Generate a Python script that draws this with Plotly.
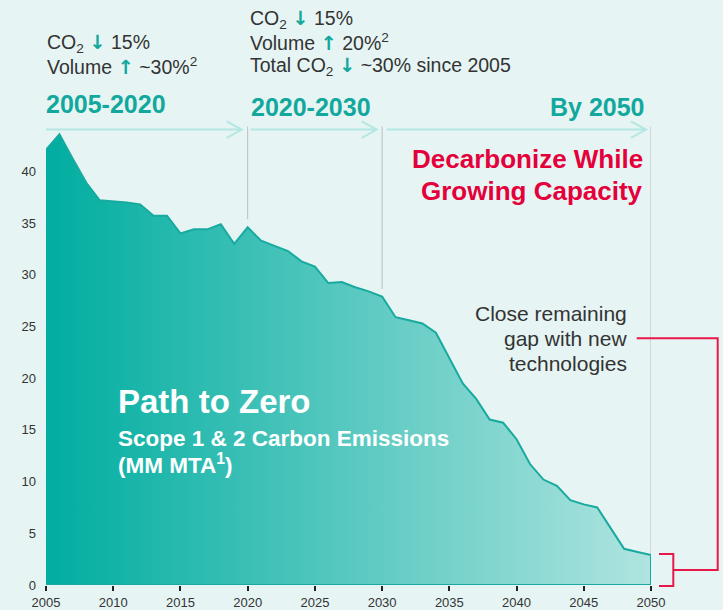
import plotly.graph_objects as go

years = list(range(2005, 2051))
emissions = [42.1, 43.6, 41.2, 38.9, 37.2, 37.1, 37.0, 36.8, 35.7, 35.7,
             34.0, 34.4, 34.4, 34.9, 33.0, 34.6, 33.3, 32.8, 32.3, 31.3,
             30.8, 29.2, 29.3, 28.8, 28.4, 27.9, 25.9, 25.6, 25.3, 24.4,
             22.0, 19.5, 18.0, 16.0, 15.7, 14.1, 11.7, 10.2, 9.6, 8.2,
             7.8, 7.5, 5.5, 3.5, 3.2, 2.9]
x_ticks = [2005, 2010, 2015, 2020, 2025, 2030, 2035, 2040, 2045, 2050]
y_ticks = [0, 5, 10, 15, 20, 25, 30, 35, 40]
phase_marks = [2020, 2030, 2050]

TEAL = "#12a89d"
RED = "#e4003b"
DARK = "#333333"
BG = "#e6f5f4"
FONT = "Liberation Sans, Arial, sans-serif"

# plot area in pixels: x 46..651, y 0..587
L, R, H = 46, 651, 587


def px(x):
    return (x - L) / (R - L)


def py(y):
    return (H - y) / H


# closed outline so the right edge and baseline get the teal line too
fig = go.Figure(go.Scatter(
    x=years + [years[-1], years[0]],
    y=emissions + [0, 0],
    mode="lines",
    fill="toself",
    fillgradient=dict(type="horizontal",
                      colorscale=[[0, "#00ada0"], [1, "#b0e4e0"]]),
    line=dict(color="#17aa9f", width=2),
    hoverinfo="skip",
))

shapes = []
for yr in phase_marks:
    bottom = {2020: 220, 2030: 290, 2050: 587}[yr]
    shapes.append(dict(type="line", xref="x", yref="paper", x0=yr, x1=yr,
                       y0=py(127), y1=py(bottom),
                       line=dict(color="#bdbdbd", width=1), layer="below"))

# timeline arrows
for x0, x1 in [(46, 241.7), (250.7, 376.7), (386.7, 646)]:
    path = (f"M{px(x0)},{py(130)} L{px(x1)},{py(130)} "
            f"M{px(x1 - 15)},{py(121.7)} L{px(x1)},{py(130)} L{px(x1 - 15)},{py(138.3)}")
    shapes.append(dict(type="path", xref="paper", yref="paper", path=path,
                       line=dict(color="#b4e6e2", width=2)))

# red bracket to the 2050 gap
bracket = (f"M{px(659)},{py(556)} L{px(673.3)},{py(556)} L{px(673.3)},{py(588)} L{px(659)},{py(588)} "
           f"M{px(673.3)},{py(572)} L{px(717.7)},{py(572)} L{px(717.7)},{py(339.3)} L{px(636.7)},{py(339.3)}")
shapes.append(dict(type="path", xref="paper", yref="paper", path=bracket,
                   line=dict(color="#e8174a", width=2)))

arrow_style = f"color:{TEAL};font-family:DejaVu Sans;font-weight:bold"
dn = f"<span style='{arrow_style}'>↓</span>"
up = f"<span style='{arrow_style}'>↑</span>"

texts = [
    # (text, x, y, anchor, size, color, bold)
    (f"CO<sub>2</sub> {dn} 15%", 45, 44, "left", 19.5, DARK, False),
    (f"Volume {up} ~30%<sup>2</sup>", 45, 67, "left", 19.5, DARK, False),
    (f"CO<sub>2</sub> {dn} 15%", 248, 20, "left", 19.5, DARK, False),
    (f"Volume {up} 20%<sup>2</sup>", 248, 43, "left", 19.5, DARK, False),
    (f"Total CO<sub>2</sub> {dn} ~30% since 2005", 248, 67, "left", 19.5, DARK, False),
    ("2005-2020", 44, 104, "left", 25, TEAL, True),
    ("2020-2030", 249, 107, "left", 25, TEAL, True),
    ("By 2050", 647, 107, "right", 25, TEAL, True),
    ("Decarbonize While", 645, 160, "right", 26, RED, True),
    ("Growing Capacity", 645, 192, "right", 26, RED, True),
    ("Close remaining", 629, 315, "right", 21, DARK, False),
    ("gap with new", 629, 340, "right", 21, DARK, False),
    ("technologies", 629, 365, "right", 21, DARK, False),
    ("Path to Zero", 116, 403, "left", 33, "white", True),
    ("Scope 1 & 2 Carbon Emissions", 116, 440, "left", 22.5, "white", True),
    ("(MM MTA<sup>1</sup>)", 116, 466, "left", 22.5, "white", True),
]
annotations = []
for t, x, y, anchor, size, color, bold in texts:
    annotations.append(dict(
        text=f"<b>{t}</b>" if bold else t,
        xref="paper", yref="paper", x=px(x), y=py(y),
        xanchor=anchor, yanchor="middle", showarrow=False,
        font=dict(family=FONT, size=size, color=color),
    ))

fig.update_layout(
    width=723, height=610,
    margin=dict(l=L, r=723 - R, t=0, b=610 - H),
    paper_bgcolor=BG, plot_bgcolor=BG,
    showlegend=False,
    font=dict(family=FONT, size=13, color=DARK),
    shapes=shapes,
    annotations=annotations,
)
fig.update_xaxes(range=[2005, 2050], tickvals=x_ticks, showgrid=False,
                 zeroline=False, showline=False, ticks="outside", ticklen=5,
                 tickwidth=1.5, tickcolor="#222222", fixedrange=True)
fig.update_yaxes(range=[0, H / 10.375], tickvals=y_ticks, showgrid=False,
                 zeroline=False, showline=False, ticklabelstandoff=9,
                 fixedrange=True)

# page has an 8px body margin by default; drop it so the chart sits at 0,0
fig.write_html("out.html", config={"displayModeBar": False},
               post_script="document.body.style.margin='0';document.body.style.overflow='hidden';")
